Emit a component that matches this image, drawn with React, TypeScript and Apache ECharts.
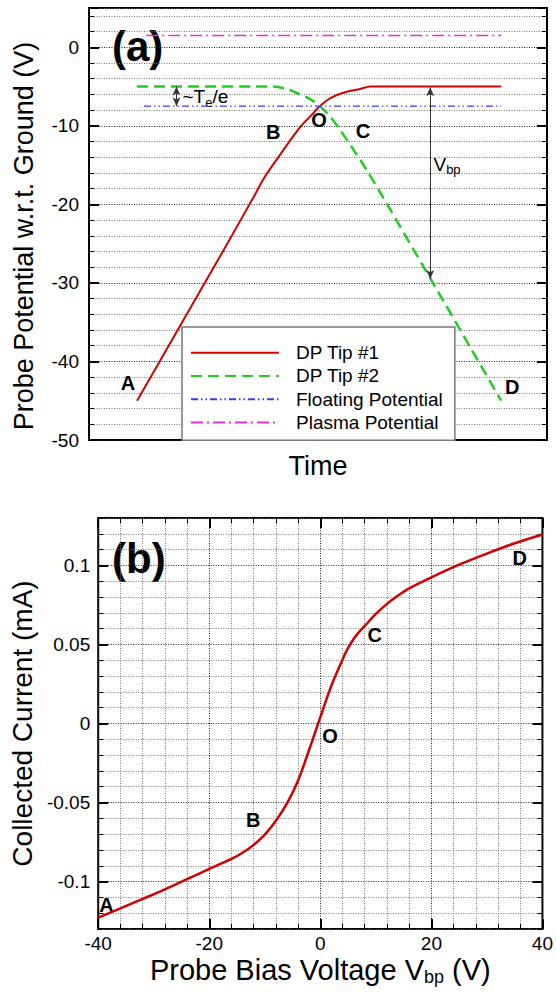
import React, { useEffect, useRef } from "react";
import * as echarts from "echarts";

const FONT = '"Liberation Sans", Arial, Helvetica, sans-serif';

// ---------- panel (a): probe potential vs. time ----------
const tip1Time = [10.5, 30, 36, 38.5, 41.7, 44.6, 46.8, 48.3, 50.4, 52.6, 55.5, 59.2, 61.4, 90];
const tip1Potential = [-45, -25.2, -19, -16.4, -13.7, -11.3, -9.7, -8.8, -7.5, -6.5, -5.8, -5.3, -5.0, -5.0];
const tip2Time = [10.5, 40.2, 43.2, 46.1, 48.3, 50.4, 52.6, 54.8, 57.7, 60.6, 64.3, 74.5, 90];
const tip2Potential = [-5, -5, -5.3, -6.0, -6.6, -7.5, -8.8, -10.5, -13, -15.6, -19.2, -29.4, -45];
const floatingTime = [12, 90];
const floatingPotential = [-7.5, -7.5];
const plasmaTime = [12.5, 90];
const plasmaPotential = [1.5, 1.5];
const pointNamesA = ["A", "B", "O", "C", "D"];
const pointTimeA = [8.5, 40.2, 50.2, 59.8, 92.4];
const pointPotentialA = [-42.7, -10.8, -9.2, -10.7, -43.2];
const vbpArrowTime = 74.5;
const vbpArrowFrom = -5.1;
const vbpArrowTo = -29.5;
const teArrowTime = 19.1;
const teArrowFrom = -5.0;
const teArrowTo = -7.5;

// ---------- panel (b): I-V characteristic ----------
const biasVoltage = [-40, -36, -32, -28, -24, -20, -16, -14, -12, -10, -8, -6, -4, -2, 0, 2, 4, 5, 6, 7, 8, 10, 12, 14, 16, 20, 25, 30, 35, 40];
const collectedCurrent = [-0.1228, -0.117, -0.111, -0.105, -0.0985, -0.092, -0.0857, -0.0818, -0.0768, -0.0703, -0.0615, -0.0505, -0.036, -0.0165, 0.004, 0.024, 0.0405, 0.0478, 0.0535, 0.058, 0.0617, 0.0693, 0.0757, 0.081, 0.0855, 0.0925, 0.1005, 0.1075, 0.114, 0.1196];
const currentMajorTicks = [-0.1, -0.05, 0, 0.05, 0.1];
const pointNamesB = ["A", "B", "O", "C", "D"];
const pointVoltageB = [-38.5, -12.1, 1.75, 9.8, 35.9];
const pointCurrentB = [-0.1146, -0.0608, -0.0082, 0.0563, 0.105];

const zip = (a: number[], b: number[]) => a.map((v, i) => [v, b[i]]);

const MAJ = "#222";
const MIN = "#777";

const tickAxis = (extra: any) => ({
  type: "value",
  axisLine: { show: false, onZero: false },
  axisLabel: { show: false },
  splitLine: { show: false },
  ...extra,
});

export default function App() {
  const ref = useRef<HTMLDivElement>(null);
  useEffect(() => {
    document.body.style.margin = "0";
    const chart = echarts.init(ref.current!, null, { renderer: "svg", width: 556, height: 992 });
    const textBase = { fontFamily: FONT, color: "#000" };
    const letterLabel = {
      show: true, position: "inside", formatter: "{b}", fontSize: 20, fontWeight: "bold",
      textBorderWidth: 0, opacity: 1, ...textBase,
    };
    const subRich = {
      s: { fontSize: 13, fontFamily: FONT, color: "#000", padding: [11, 0, 0, 0] },
    };

    const option: any = {
      animation: false,
      grid: [
        { left: 89, top: 8, width: 458, height: 432, show: true, borderColor: "#000", borderWidth: 2, backgroundColor: "transparent" },
        { left: 88, top: 518, width: 457, height: 411, show: true, borderColor: "#000", borderWidth: 2, backgroundColor: "transparent" },
      ],
      xAxis: [
        {
          type: "value", gridIndex: 0, min: 0, max: 100,
          axisLine: { show: false, onZero: false }, axisTick: { show: false }, axisLabel: { show: false }, splitLine: { show: false },
          name: "Time", nameLocation: "middle", nameGap: 12,
          nameTextStyle: { fontSize: 27, ...textBase },
        },
        tickAxis({
          gridIndex: 1, min: -40, max: 40, interval: 4, position: "bottom",
          axisTick: { inside: true, length: 5, lineStyle: { color: "#000", width: 1 } },
          splitLine: { show: true, lineStyle: { type: [1, 1.5], width: 1, color: [MAJ, MIN, MIN, MIN, MIN] } },
        }),
        {
          type: "value", gridIndex: 1, min: -40, max: 40, interval: 20, position: "bottom",
          axisLine: { show: false, onZero: false }, splitLine: { show: false },
          axisTick: { inside: true, length: 10, lineStyle: { color: "#000", width: 2 } },
          axisLabel: { margin: 5, fontSize: 19, ...textBase },
          name: "Probe Bias Voltage V{s|bp} (V)", nameLocation: "middle", nameGap: 24,
          nameTextStyle: { fontSize: 29, ...textBase, rich: { s: { fontSize: 18, fontFamily: FONT, color: "#000", padding: [15, 0, 0, 0] } } },
        },
        tickAxis({
          gridIndex: 1, min: -40, max: 40, interval: 4, position: "top",
          axisTick: { inside: true, length: 5, lineStyle: { color: "#000", width: 1 } },
        }),
        tickAxis({
          gridIndex: 1, min: -40, max: 40, interval: 20, position: "top",
          axisTick: { inside: true, length: 10, lineStyle: { color: "#000", width: 2 } },
        }),
      ],
      yAxis: [
        tickAxis({
          gridIndex: 0, min: -50, max: 5, interval: 2, position: "left",
          axisTick: { inside: true, length: 5, lineStyle: { color: "#000", width: 1 } },
          splitLine: { show: true, lineStyle: { type: [1, 1.5], width: 1, color: [MAJ, MIN, MIN, MIN, MIN] } },
        }),
        {
          type: "value", gridIndex: 0, min: -50, max: 5, interval: 10, position: "left",
          axisLine: { show: false, onZero: false }, splitLine: { show: false },
          axisTick: { inside: true, length: 10, lineStyle: { color: "#000", width: 2 } },
          axisLabel: { margin: 10, fontSize: 19, ...textBase, formatter: (v: number) => (v > 0.5 ? "" : String(v)) },
          name: "Probe Potential w.r.t. Ground (V)", nameLocation: "middle", nameGap: 52,
          nameTextStyle: { fontSize: 27, ...textBase, padding: [0, 24, 0, 0] },
        },
        tickAxis({
          gridIndex: 0, min: -50, max: 5, interval: 2, position: "right",
          axisTick: { inside: true, length: 5, lineStyle: { color: "#000", width: 1 } },
        }),
        tickAxis({
          gridIndex: 0, min: -50, max: 5, interval: 10, position: "right",
          axisTick: { inside: true, length: 10, lineStyle: { color: "#000", width: 2 } },
        }),
        tickAxis({
          gridIndex: 1, min: -0.13, max: 0.13, interval: 0.01, position: "left",
          axisTick: { inside: true, length: 5, lineStyle: { color: "#000", width: 1 } },
          splitLine: { show: true, lineStyle: { type: [1, 1.5], width: 1, color: [MIN, MIN, MIN, MAJ, MIN] } },
        }),
        {
          type: "value", gridIndex: 1, min: -0.13, max: 0.13, position: "left",
          axisLine: { show: false, onZero: false }, splitLine: { show: false },
          axisTick: { inside: true, length: 10, customValues: currentMajorTicks, lineStyle: { color: "#000", width: 2 } },
          axisLabel: {
            margin: 8, fontSize: 19, ...textBase, customValues: currentMajorTicks,
            formatter: (v: number) => String(+v.toFixed(2)),
          },
          name: "Collected Current (mA)", nameLocation: "middle", nameGap: 54,
          nameTextStyle: { fontSize: 28, ...textBase },
        },
        tickAxis({
          gridIndex: 1, min: -0.13, max: 0.13, interval: 0.01, position: "right",
          axisTick: { inside: true, length: 5, lineStyle: { color: "#000", width: 1 } },
        }),
        tickAxis({
          gridIndex: 1, min: -0.13, max: 0.13, position: "right",
          axisTick: { inside: true, length: 10, customValues: currentMajorTicks, lineStyle: { color: "#000", width: 2 } },
        }),
      ],
      legend: {
        data: ["DP Tip #1", "DP Tip #2", "Floating Potential", "Plasma Potential"],
        orient: "vertical", left: 182, top: 327,
        padding: [14, 12, 6, 8], itemWidth: 88, itemHeight: 14, itemGap: 0,
        backgroundColor: "#fff", borderColor: "#777", borderWidth: 1.5,
        selectedMode: false,
        itemStyle: { opacity: 0 },
        textStyle: { fontSize: 19, lineHeight: 23.3, padding: [0, 0, 0, 12], ...textBase },
      },
      graphic: [
        { type: "text", x: 112, y: 46, style: { text: "(a)", font: `bold 42px ${FONT}`, fill: "#000", align: "left", verticalAlign: "middle" } },
        { type: "text", x: 112, y: 558, style: { text: "(b)", font: `bold 42px ${FONT}`, fill: "#000", align: "left", verticalAlign: "middle" } },
      ],
      series: [
        {
          name: "DP Tip #1", type: "line", xAxisIndex: 0, yAxisIndex: 0, data: zip(tip1Time, tip1Potential),
          symbol: "none", smooth: 0.3, color: "#d40000", lineStyle: { color: "#d40000", width: 2 },
        },
        {
          name: "DP Tip #2", type: "line", xAxisIndex: 0, yAxisIndex: 0, data: zip(tip2Time, tip2Potential),
          symbol: "none", smooth: 0.3, color: "#22cc22", lineStyle: { color: "#22cc22", width: 2.5, type: [11, 6] },
        },
        {
          name: "Floating Potential", type: "line", xAxisIndex: 0, yAxisIndex: 0, data: zip(floatingTime, floatingPotential),
          symbol: "none", color: "#3a3aff", lineStyle: { color: "#3a3aff", width: 1.3, type: [7, 3, 1.5, 3, 1.5, 3] },
        },
        {
          name: "Plasma Potential", type: "line", xAxisIndex: 0, yAxisIndex: 0, data: zip(plasmaTime, plasmaPotential),
          symbol: "none", color: "#e030e0", lineStyle: { color: "#e030e0", width: 1.3, type: [12, 4, 2, 4] },
        },
        {
          name: "arrows", type: "line", xAxisIndex: 0, yAxisIndex: 0, data: [], symbol: "none",
          markLine: {
            silent: true, symbol: ["arrow", "arrow"], symbolSize: [6, 9], label: { show: false },
            lineStyle: { color: "#333", width: 1, type: "solid" },
            data: [
              [{ coord: [vbpArrowTime, vbpArrowFrom] }, { coord: [vbpArrowTime, vbpArrowTo] }],
              [{ coord: [teArrowTime, teArrowFrom] }, { coord: [teArrowTime, teArrowTo] }],
            ],
          },
        },
        {
          name: "lettersA", type: "scatter", xAxisIndex: 0, yAxisIndex: 0, symbolSize: 1,
          itemStyle: { color: "#fff", opacity: 0 }, label: letterLabel,
          data: pointNamesA.map((n, i) => ({ name: n, value: [pointTimeA[i], pointPotentialA[i]] })),
        },
        {
          name: "notesA", type: "scatter", xAxisIndex: 0, yAxisIndex: 0, symbolSize: 1,
          itemStyle: { color: "#fff", opacity: 0 },
          label: { show: true, position: "right", distance: 0, fontSize: 19, textBorderWidth: 0, opacity: 1, ...textBase, rich: subRich },
          data: [
            { name: "te", value: [20.3, -6.3], label: { formatter: "~T{s|e}/e" } },
            { name: "vbp", value: [75.1, -14.9], label: { formatter: "V{s|bp}" } },
          ],
        },
        {
          name: "I-V", type: "line", xAxisIndex: 1, yAxisIndex: 4, data: zip(biasVoltage, collectedCurrent),
          symbol: "none", smooth: 0.3, color: "#d40000", lineStyle: { color: "#d40000", width: 2.5 },
        },
        {
          name: "lettersB", type: "scatter", xAxisIndex: 1, yAxisIndex: 4, symbolSize: 1,
          itemStyle: { color: "#fff", opacity: 0 }, label: letterLabel,
          data: pointNamesB.map((n, i) => ({ name: n, value: [pointVoltageB[i], pointCurrentB[i]] })),
        },
      ],
    };
    chart.setOption(option);
    return () => chart.dispose();
  }, []);
  return <div ref={ref} style={{ position: "absolute", left: 0, top: 0, width: 556, height: 992 }} />;
}
